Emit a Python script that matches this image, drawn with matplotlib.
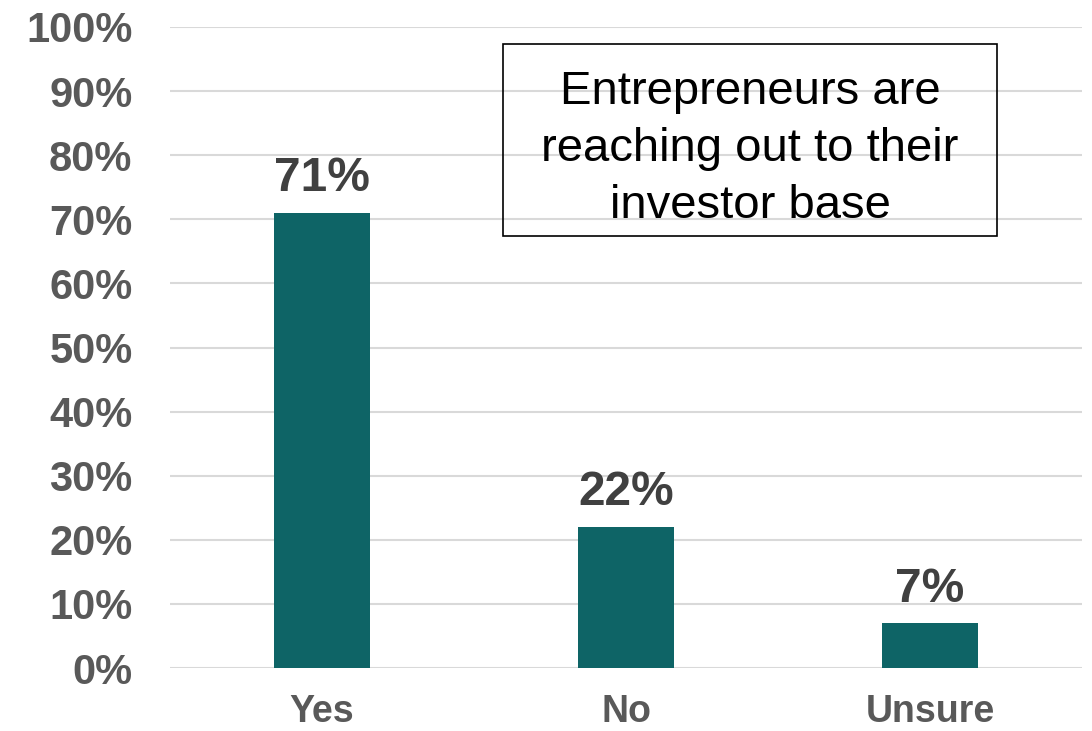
import matplotlib.pyplot as plt
from matplotlib.patches import Rectangle
import numpy as np

categories = ['Yes', 'No', 'Unsure']
shares = [71, 22, 7]
yticks = list(range(0, 101, 10))

plt.rcParams['font.family'] = ['Liberation Sans', 'DejaVu Sans']

fig = plt.figure(figsize=(10.92, 7.31), dpi=100)
ax = fig.add_axes([170 / 1092, 63 / 731, 912 / 1092, 641 / 731])

x = np.arange(len(categories))
ax.bar(x, shares, width=0.315, color='#0E6466', zorder=3)

for xi, v in zip(x, shares):
    ax.text(xi, v + 1.8, f'{v}%', ha='center', va='bottom',
            fontsize=34.5, fontweight='bold', color='#404040')

ax.set_xlim(-0.5, len(categories) - 0.5)
ax.set_ylim(0, 100)
ax.set_yticks(yticks)
ax.set_yticklabels([f'{t}%' for t in yticks])
ax.set_xticks(x)
ax.set_xticklabels(categories)
ax.tick_params(axis='y', length=0, pad=27, labelsize=30, labelcolor='#595959')
ax.tick_params(axis='x', length=0, pad=19, labelsize=27, labelcolor='#595959')
for lab in ax.get_yticklabels() + ax.get_xticklabels():
    lab.set_fontweight('bold')

ax.grid(axis='y', color='#D9D9D9', linewidth=1.5, zorder=0)
for s in ax.spines.values():
    s.set_visible(False)

# note box on the right
ax.add_patch(Rectangle((0.365, 0.674), 0.542, 0.2995, transform=ax.transAxes,
                       facecolor='none', edgecolor='black', linewidth=1.2,
                       zorder=4))
ax.text(0.636, 0.810, 'Entrepreneurs are\nreaching out to their\ninvestor base',
        transform=ax.transAxes, ha='center', va='center', fontsize=34,
        linespacing=1.38, color='black', zorder=5)

fig.savefig('out.png', dpi=100)
